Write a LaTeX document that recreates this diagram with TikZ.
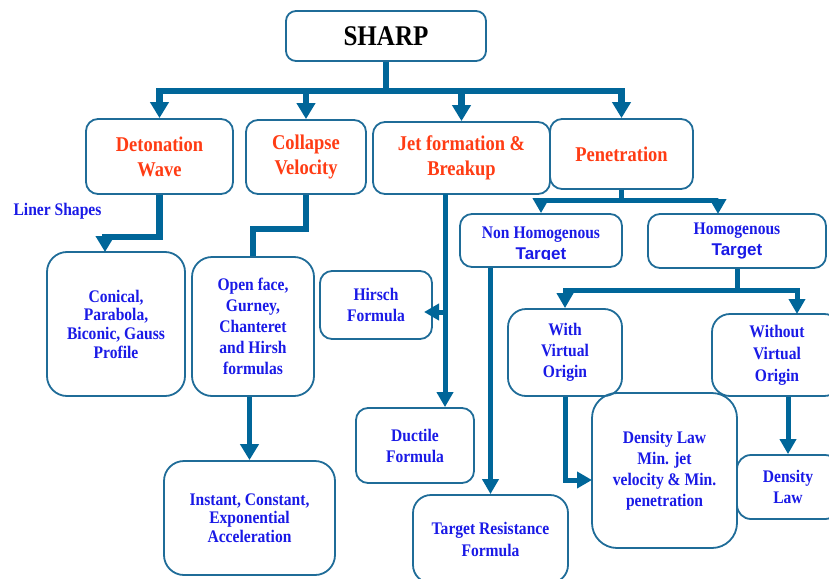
\documentclass[tikz,border=0pt]{standalone}
\usepackage{fontspec}
\setmainfont{Liberation Serif}[FakeStretch=0.88]
\newfontfamily\arialb{Liberation Sans}
\usetikzlibrary{arrows.meta}
\definecolor{bord}{HTML}{1F6C98}
\definecolor{conn}{HTML}{006699}
\definecolor{txtblue}{HTML}{1A1AE6}
\definecolor{txtorange}{HTML}{FF3C14}
\begin{document}
\begin{tikzpicture}[x=1pt,y=-1pt,
  box/.style={draw=bord,line width=1.8pt,rounded corners=12pt,align=center,inner sep=0pt},
  hdr/.style={text=txtorange,font=\fontsize{21}{25}\selectfont\bfseries},
  sub/.style={text=txtblue,align=center,font=\fontsize{17.7}{21}\selectfont\bfseries},
  big/.style={draw=conn,line width=6.5pt},
  mid/.style={draw=conn,line width=5pt},
  tip/.style={-{Triangle[length=16pt,width=18pt]}},
  tips/.style={-{Triangle[length=15pt,width=16pt]}}]
\useasboundingbox (0,0) rectangle (829,578);

% boxes
\node[box,rounded corners=10pt,minimum width=200pt,minimum height=50pt,font=\fontsize{28.5}{30}\selectfont\bfseries] (sharp) at (386,36) {SHARP};
\node[box,hdr,minimum width=147pt,minimum height=75pt] (det) at (159.5,156.5) {Detonation\\Wave};
\node[box,hdr,minimum width=120pt,minimum height=74pt] (col) at (306,157) {Collapse\\Velocity};
\node[box,hdr,minimum width=177pt,minimum height=72pt] (jet) at (461.5,158) {Jet formation \&\\Breakup};
\node[box,hdr,minimum width=143pt,minimum height=70pt] (pen) at (621.5,154) {Penetration};

\begin{scope}
  \clip (455,205) rectangle (630,259);
  \node[sub] (nonht) at (541,245) {Non Homogenous\\{\arialb\fontsize{17}{21}\selectfont Target}};
\end{scope}
\node[box,minimum width=162pt,minimum height=53pt] (nonh) at (541,240.5) {};
\node[box,sub,minimum width=178pt,minimum height=54pt] (hom) at (737,241) {Homogenous\\{\arialb\fontsize{17}{21}\selectfont Target}};

\node[sub] (liner) at (57.5,211) {Liner Shapes};

\node[box,sub,rounded corners=20pt,minimum width=138pt,minimum height=144pt,font=\fontsize{17.7}{18.7}\selectfont\bfseries] (con) at (116,324) {Conical,\\Parabola,\\Biconic, Gauss\\Profile};
\node[box,sub,rounded corners=20pt,minimum width=122pt,minimum height=139pt] (open) at (253,326.5) {Open face,\\Gurney,\\Chanteret\\and Hirsh\\formulas};
\node[box,sub,minimum width=112pt,minimum height=68pt] (hir) at (376,305) {Hirsch\\Formula};
\node[box,sub,minimum width=118pt,minimum height=75pt] (duc) at (415,445.5) {Ductile\\Formula};
\node[box,sub,rounded corners=20pt,minimum width=171pt,minimum height=114pt,font=\fontsize{17.7}{18.7}\selectfont\bfseries] (ins) at (249.5,518) {Instant, Constant,\\Exponential\\Acceleration};
\node[box,sub,rounded corners=18pt,minimum width=155pt,minimum height=88pt,font=\fontsize{17.7}{22}\selectfont\bfseries] (tres) at (490.5,539) {Target Resistance\\Formula};
\node[box,sub,rounded corners=18pt,minimum width=114pt,minimum height=87pt] (with) at (565,352.5) {With\\Virtual\\Origin};
\node[box,sub,rounded corners=18pt,minimum width=130pt,minimum height=82pt,font=\fontsize{17.7}{22}\selectfont\bfseries] (without) at (777,355) {Without\\Virtual\\Origin};
\node[box,sub,rounded corners=25pt,minimum width=145pt,minimum height=155pt] (dbig) at (664.5,470.5) {Density Law\\Min. jet\\velocity \& Min.\\penetration};
\node[box,sub,rounded corners=14pt,minimum width=102pt,minimum height=64pt] (dsmall) at (788,487) {Density\\Law};

% helper coordinates
\coordinate (conin) at (105,252);
\coordinate (jv) at (445,194);
\coordinate (jh) at (445,312);
\coordinate (hh) at (424,312);
\coordinate (homin) at (718,214);
\coordinate (woin) at (797,314);
\coordinate (dbin) at (592,480);

% connectors
\draw[big,tip] (sharp.south) -- ++(0,29) -| (det.north);
\draw[big,tip] (sharp.south) -- ++(0,29) -| (col.north);
\draw[big,tip] (sharp.south) -- ++(0,29) -| (jet.north);
\draw[big,tip] (sharp.south) -- ++(0,29) -| (pen.north);

\draw[big,tip] (det.south) -- ++(0,42) -| (conin);
\draw[big] (col.south) -- ++(0,34) -| (open.north);
\draw[mid,tip] (ins.north |- open.south) -- (ins.north);

\draw[mid,tips] (jv) -- (jv |- duc.north);
\draw[mid,tips] (jh) -- (hh);

\draw[mid,tips] (pen.south) -- ++(0,11) -| (nonh.north);
\draw[mid,tips] (pen.south) -- ++(0,11) -| (homin);
\draw[mid,tips] (tres.north |- nonh.south) -- (tres.north);

\draw[mid,tips] (hom.south) -- ++(0,22) -| (with.north);
\draw[mid,tips] (hom.south) -- ++(0,22) -| (woin);
\draw[mid,tips] (with.south) |- (dbin);
\draw[mid,tips] (dsmall.north |- without.south) -- (dsmall.north);
\end{tikzpicture}
\end{document}
